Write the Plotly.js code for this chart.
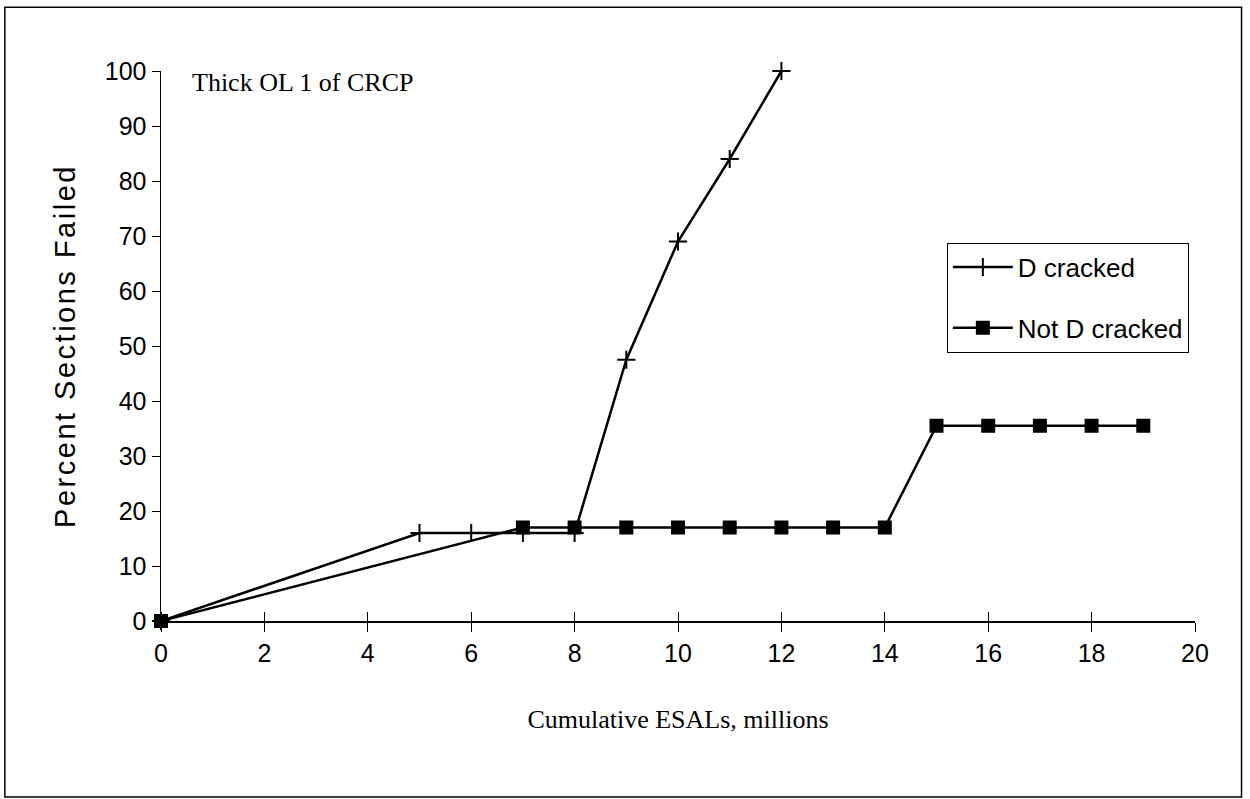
<!DOCTYPE html>
<html>
<head>
<meta charset="utf-8">
<script src="https://cdn.plot.ly/plotly-3.0.1.min.js"></script>
<style>
html,body{margin:0;padding:0;background:#fff;}
#chart{width:1250px;height:799px;}
.ytitle{letter-spacing:2.5px;}
</style>
</head>
<body>
<div id="chart"></div>
<script>
var dCrackedX = [0, 5, 6, 7, 8, 9, 10, 11, 12];
var dCrackedY = [0, 16, 16, 16, 16, 47.5, 69, 84, 100];
var notDCrackedX = [0, 7, 8, 9, 10, 11, 12, 13, 14, 15, 16, 17, 18, 19];
var notDCrackedY = [0, 17, 17, 17, 17, 17, 17, 17, 17, 35.5, 35.5, 35.5, 35.5, 35.5];
var seriesNames = ["D cracked", "Not D cracked"];
var xTicks = [0, 2, 4, 6, 8, 10, 12, 14, 16, 18, 20];
var yTicks = [0, 10, 20, 30, 40, 50, 60, 70, 80, 90, 100];

var traces = [
  {x: dCrackedX, y: dCrackedY, name: seriesNames[0], type: "scatter", mode: "lines+markers",
   legendgroup: "a",
   line: {color: "#000", width: 2.5},
   marker: {symbol: "cross-thin", size: 13, color: "#000", line: {color: "#000", width: 2}},
   cliponaxis: false},
  {x: notDCrackedX, y: notDCrackedY, name: seriesNames[1], type: "scatter", mode: "lines+markers",
   legendgroup: "b",
   line: {color: "#000", width: 2.5},
   marker: {symbol: "square", size: 14, color: "#000"},
   cliponaxis: false},
  {x: [0, 20], y: [0, 0], xaxis: "x2", type: "scatter", mode: "none", showlegend: false, hoverinfo: "skip"}
];

var tickFont = {family: "Liberation Sans, Arial, sans-serif", size: 25, color: "#000"};

var layout = {
  width: 1250, height: 799,
  paper_bgcolor: "#fff", plot_bgcolor: "#fff",
  margin: {l: 161, r: 55, t: 71, b: 178},
  showlegend: true,
  legend: {x: 0.760, y: 0.688, xanchor: "left", yanchor: "top",
    bordercolor: "#000", borderwidth: 1, bgcolor: "#fff",
    font: {family: "Liberation Sans, Arial, sans-serif", size: 26, color: "#000"},
    tracegroupgap: 24, itemwidth: 60},
  xaxis: {range: [0, 20], tickvals: xTicks, ticktext: xTicks.map(String),
    showgrid: false, zeroline: false, showline: true, linecolor: "#000", linewidth: 1.5,
    ticks: "outside", ticklen: 9, tickcolor: "#000", tickwidth: 1,
    tickfont: tickFont,
    title: {text: "Cumulative ESALs, millions", standoff: 44,
      font: {family: "Liberation Serif, Times New Roman, serif", size: 26, color: "#000"}}},
  xaxis2: {range: [0, 20], overlaying: "x", anchor: "y", side: "bottom", tickvals: xTicks,
    showticklabels: false, showgrid: false, zeroline: false, showline: false,
    ticks: "inside", ticklen: 9, tickcolor: "#000", tickwidth: 1},
  yaxis: {range: [0, 100], tickvals: yTicks, ticktext: yTicks.map(String),
    showgrid: false, zeroline: false, showline: true, linecolor: "#000", linewidth: 1.5,
    ticks: "outside", ticklen: 8, tickcolor: "#000", tickwidth: 1,
    tickfont: tickFont,
    title: {text: "Percent Sections Failed", standoff: 20,
      font: {family: "Liberation Sans, Arial, sans-serif", size: 29, color: "#000"}}},
  annotations: [
    {text: "Thick OL 1 of CRCP", xref: "paper", yref: "paper", x: 0.028, y: 0.98,
     xanchor: "left", yanchor: "middle", showarrow: false,
     font: {family: "Liberation Serif, Times New Roman, serif", size: 26, color: "#000"}}
  ],
  shapes: [
    {type: "rect", xref: "paper", yref: "paper", x0: -0.151, x1: 1.045, y0: -0.32, y1: 1.116,
     line: {color: "#000", width: 1.5}, fillcolor: "rgba(0,0,0,0)", layer: "below"}
  ]
};

Plotly.newPlot("chart", traces, layout, {displayModeBar: false, staticPlot: true});
</script>
</body>
</html>
